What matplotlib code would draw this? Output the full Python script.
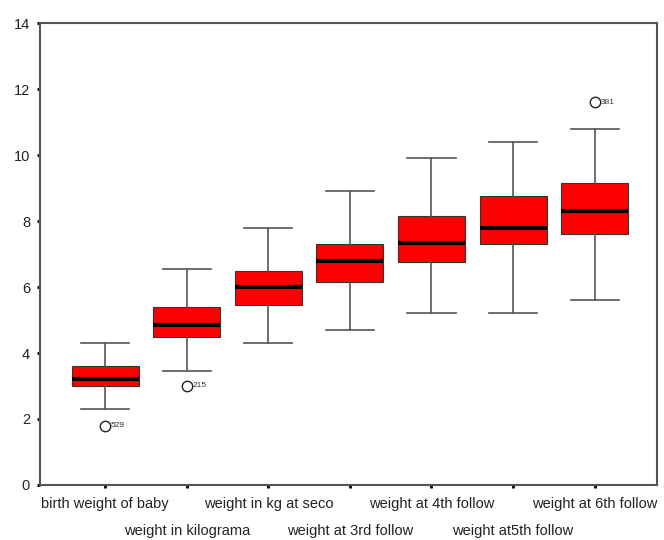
import matplotlib
matplotlib.use("Agg")
import matplotlib.pyplot as plt

plt.rcParams['font.family'] = ['Liberation Sans', 'DejaVu Sans']

labels = ["birth weight of baby", "weight in kilograma", "weight in kg at seco",
          "weight at 3rd follow", "weight at 4th follow", "weight at5th follow",
          "weight at 6th follow"]
whislo = [2.3, 3.45, 4.3, 4.7, 5.2, 5.2, 5.6]
q1 = [3.0, 4.5, 5.45, 6.15, 6.75, 7.3, 7.6]
med = [3.2, 4.85, 6.0, 6.8, 7.35, 7.8, 8.3]
q3 = [3.6, 5.4, 6.5, 7.3, 8.15, 8.75, 9.15]
whishi = [4.3, 6.55, 7.8, 8.9, 9.9, 10.4, 10.8]
outliers = [[1.8], [3.0], [], [], [], [], [11.6]]
outlier_ids = [["529"], ["215"], [], [], [], [], ["381"]]

fig = plt.figure(figsize=(6.64, 5.4), dpi=100)
ax = fig.add_axes([0.060, 0.102, 0.929, 0.855])

stats = []
for i in range(len(labels)):
    stats.append(dict(whislo=whislo[i], q1=q1[i], med=med[i], q3=q3[i],
                      whishi=whishi[i], fliers=outliers[i], label=labels[i]))
positions = list(range(1, len(labels) + 1))
ax.bxp(stats, positions=positions, widths=0.82, patch_artist=True,
       boxprops=dict(facecolor='#ff0000', edgecolor='#333333', linewidth=0.8),
       medianprops=dict(color='black', linewidth=3),
       whiskerprops=dict(color='#555555', linewidth=1.2),
       capprops=dict(color='#555555', linewidth=1.2),
       capwidths=0.59,
       flierprops=dict(marker='o', markerfacecolor='white', markeredgecolor='#222222',
                       markersize=7.5, markeredgewidth=1.0))

for i, (vals, ids) in enumerate(zip(outliers, outlier_ids)):
    for v, t in zip(vals, ids):
        ax.annotate(t, (positions[i], v), xytext=(4, 0), textcoords='offset points',
                    fontsize=6, va='center', ha='left', color='#333333')

ax.set_xlim(0.2, 7.76)
ax.set_ylim(0, 14)
ax.set_yticks([0, 2, 4, 6, 8, 10, 12, 14])
ax.set_xticks(positions)
ax.set_xticklabels(labels)
ax.tick_params(axis='both', length=2, width=2, color='black',
               labelcolor='#222222')
ax.tick_params(axis='y', labelsize=10.5, pad=5)
ax.tick_params(axis='x', labelsize=10.5, pad=7)
for i, t in enumerate(ax.xaxis.get_major_ticks()):
    if i % 2 == 1:
        t.set_pad(26)
for s in ax.spines.values():
    s.set_color('#555555')
    s.set_linewidth(1.5)

fig.savefig("out.png", dpi=100)
